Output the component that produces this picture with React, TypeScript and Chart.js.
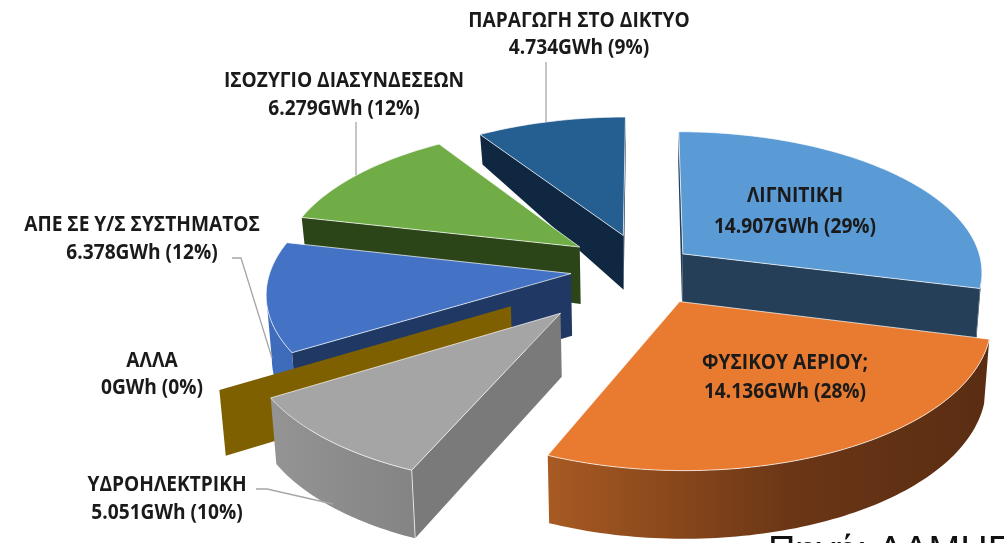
import React, { useEffect, useRef } from "react";
import { Chart, registerables } from "chart.js";

Chart.register(...registerables);

// ---- data ----
const categories = [
  "ΛΙΓΝΙΤΙΚΗ",
  "ΦΥΣΙΚΟΥ ΑΕΡΙΟΥ;",
  "ΥΔΡΟΗΛΕΚΤΡΙΚΗ",
  "ΑΛΛΑ",
  "ΑΠΕ ΣΕ Υ/Σ ΣΥΣΤΗΜΑΤΟΣ",
  "ΙΣΟΖΥΓΙΟ ΔΙΑΣΥΝΔΕΣΕΩΝ",
  "ΠΑΡΑΓΩΓΗ ΣΤΟ ΔΙΚΤΥΟ",
];
const valuesGWh = [14907, 14136, 5051, 0, 6378, 6279, 4734];
const valueTexts = ["14.907GWh", "14.136GWh", "5.051GWh", "0GWh", "6.378GWh", "6.279GWh", "4.734GWh"];
const percentTexts = ["29%", "28%", "10%", "0%", "12%", "12%", "9%"];
const sourceText = "Πηγή: ΔΑΜΗΕ";

// ---- styles ----
const explodeOffsets = [36, 56.4, 89, 109.4, 53.2, 57.7, 54];
const topColors = ["#5b9bd5", "#e97b30", "#a5a5a5", "#7f6000", "#4472c4", "#70ad47", "#255e91"];
const radialColors = ["#243f57", "#a85a22", "#7a7a7a", "#7f6000", "#203864", "#2b4519", "#0f2740"];
const rimLeft = ["#243f57", "#a85a22", "#949494", "#7f6000", "#3f6cbc", "#2b4519", "#0f2740"];
const rimMid = ["#243f57", "#6b3616", "#828282", "#7f6000", "#3a63ad", "#2b4519", "#0f2740"];
const rimRight = ["#243f57", "#5a2d12", "#767676", "#7f6000", "#2f5597", "#2b4519", "#0f2740"];
const paintOrder = [6, 5, 4, 3, 2, 0, 1];
const labelPlaces: [number, number, number][] = [
  [795, 196, 227],
  [785, 363, 392],
  [167, 485, 513],
  [152, 361, 388],
  [142, 225, 253],
  [344, 81, 109],
  [579, 21, 48],
];
const leaderLines: number[][][] = [
  [[546, 62], [546, 122]],
  [[356, 122], [356, 175]],
  [[232, 258], [241, 258], [272, 358]],
  [[256, 489], [267, 489], [333, 504]],
];

// ---- projection of the pie plane onto the page ----
const CX = 644, CY = 268, SX = 300, SY = 140, PERSP = 0.12;
const project = (u: number, v: number) => {
  const w = 1 - PERSP * v;
  return { x: CX + (SX * u) / w, y: CY + (SY * v) / w };
};
const lower = (u: number, v: number) => {
  const p = project(u, v);
  const d = v < 0 ? 62 + 33 * v : 62 + 5 * v;
  return { x: CX + (p.x - CX) * 0.985, y: p.y + Math.max(d, 30) };
};

const pie3d = {
  id: "pie3d",
  beforeDatasetDraw(chart: any) {
    const ctx: CanvasRenderingContext2D = chart.ctx;
    const arcs = chart.getDatasetMeta(0).data;
    ctx.save();
    ctx.lineJoin = "round";
    for (const i of paintOrder) {
      const el = arcs[i];
      const R = el.outerRadius;
      const mid = (el.startAngle + el.endAngle) / 2;
      const off = el.options.offset / R;
      const ou = Math.cos(mid) * off;
      const ov = Math.sin(mid) * off;
      const pts: [number, number][] = [[ou, ov]];
      const N = Math.max(1, Math.ceil((el.endAngle - el.startAngle) / 0.02));
      for (let k = 0; k <= N; k++) {
        const a = el.startAngle + ((el.endAngle - el.startAngle) * k) / N;
        pts.push([ou + Math.cos(a), ov + Math.sin(a)]);
      }
      const tops = pts.map(([u, v]) => project(u, v));
      const bots = pts.map(([u, v]) => lower(u, v));
      const xs = tops.map((p) => p.x);
      const g = ctx.createLinearGradient(Math.min(...xs), 0, Math.max(...xs), 0);
      g.addColorStop(0, rimLeft[i]);
      g.addColorStop(0.55, rimMid[i]);
      g.addColorStop(1, rimRight[i]);
      const edgeCount = pts.length;
      const face = (idx: number[], fill: any) => {
        ctx.beginPath();
        idx.forEach((n, k) => (k ? ctx.lineTo(tops[n].x, tops[n].y) : ctx.moveTo(tops[n].x, tops[n].y)));
        [...idx].reverse().forEach((n) => ctx.lineTo(bots[n].x, bots[n].y));
        ctx.closePath();
        ctx.fillStyle = fill;
        ctx.fill();
      };
      // walls that face the viewer
      if (tops[1].x < tops[0].x) face([0, 1], radialColors[i]);
      let run: number[] = [];
      for (let k = 1; k < edgeCount - 1; k++) {
        if (tops[k + 1].x < tops[k].x) {
          if (!run.length) run.push(k);
          run.push(k + 1);
        } else if (run.length) {
          face(run, g);
          run = [];
        }
      }
      if (run.length) face(run, g);
      if (tops[0].x < tops[edgeCount - 1].x) face([edgeCount - 1, 0], radialColors[i]);
      // corner highlight
      if (i === 2) {
        ctx.strokeStyle = "rgba(255,255,255,0.7)";
        ctx.lineWidth = 1;
        ctx.beginPath();
        ctx.moveTo(tops[1].x, tops[1].y);
        ctx.lineTo(bots[1].x, bots[1].y);
        ctx.stroke();
      }
      // top face
      if (N > 1) {
        ctx.beginPath();
        tops.forEach((p, k) => (k ? ctx.lineTo(p.x, p.y) : ctx.moveTo(p.x, p.y)));
        ctx.closePath();
        ctx.fillStyle = topColors[i];
        ctx.fill();
        ctx.strokeStyle = "rgba(255,255,255,0.7)";
        ctx.lineWidth = 1;
        ctx.stroke();
      }
    }
    ctx.restore();
    return false;
  },
  afterDatasetsDraw(chart: any) {
    const ctx: CanvasRenderingContext2D = chart.ctx;
    ctx.save();
    ctx.strokeStyle = "#a6a6a6";
    ctx.lineWidth = 1.3;
    for (const line of leaderLines) {
      ctx.beginPath();
      line.forEach(([x, y], k) => (k ? ctx.lineTo(x, y) : ctx.moveTo(x, y)));
      ctx.stroke();
    }
    ctx.fillStyle = "#1a1a1a";
    ctx.textAlign = "center";
    ctx.textBaseline = "middle";
    ctx.font = '700 22px "Open Sans"';
    const put = (t: string, x: number, y: number) => {
      ctx.save();
      ctx.translate(x, y);
      ctx.scale(0.87, 1);
      ctx.fillText(t, 0, 0);
      ctx.restore();
    };
    categories.forEach((name, i) => {
      const [x, y1, y2] = labelPlaces[i];
      put(name, x, y1);
      put(`${valueTexts[i]} (${percentTexts[i]})`, x, y2);
    });
    ctx.textAlign = "left";
    ctx.textBaseline = "alphabetic";
    ctx.fillStyle = "#111";
    ctx.font = '38px "Liberation Sans"';
    ctx.fillText(sourceText, 768, 563);
    ctx.restore();
  },
};

export default function App() {
  const ref = useRef<HTMLCanvasElement>(null);
  useEffect(() => {
    const chart = new Chart(ref.current!, {
      type: "pie",
      data: {
        labels: categories,
        datasets: [{ data: valuesGWh, backgroundColor: topColors, borderWidth: 0, offset: explodeOffsets }],
      },
      options: {
        responsive: false,
        animation: false,
        layout: { padding: 0 },
        plugins: { legend: { display: false }, tooltip: { enabled: false } },
      },
      plugins: [pie3d],
    } as any);
    return () => chart.destroy();
  }, []);
  return (
    <div style={{ position: "fixed", left: 0, top: 0, width: 1004, height: 543, background: "#fff", overflow: "hidden" }}>
      <canvas ref={ref} width={1004} height={543} style={{ display: "block", filter: "blur(0.5px)" }} />
    </div>
  );
}
